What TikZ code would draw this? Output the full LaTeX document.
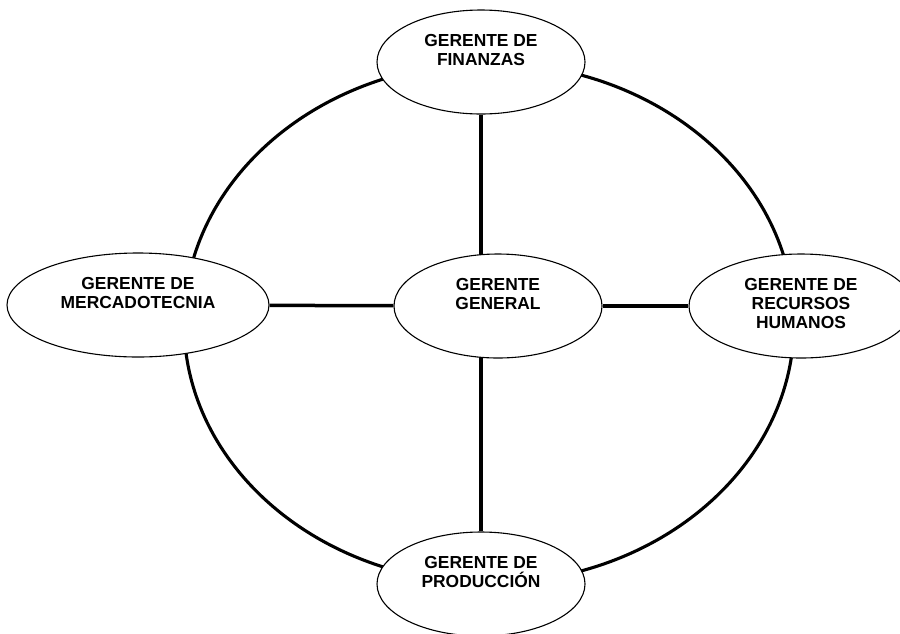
\documentclass[tikz,border=0pt]{standalone}
\usepackage{fontspec}
\setmainfont{Liberation Sans}
\usetikzlibrary{shapes.geometric,backgrounds}
\begin{document}
\begin{tikzpicture}[x=1pt,y=-1pt,
  manager/.style={ellipse, draw, line width=1.1pt, fill=white, inner sep=0pt, minimum height=104pt},
  caption/.style={font=\bfseries\fontsize{17.4}{19}\selectfont, align=center, inner sep=0pt, anchor=north},
  link/.style={line width=3.5pt},
  ring/.style={line width=3.1pt}]
\useasboundingbox (0,0) rectangle (900,633);
\clip (0,0) rectangle (900,633);

% managers
\node[manager, minimum width=208pt] (gen)  at (498,306) {};
\node[manager, minimum width=208pt] (fin)  at (481,62)  {};
\node[manager, minimum width=262pt] (mkt)  at (138,305) {};
\node[manager, minimum width=224pt] (rh)   at (801,306) {};
\node[manager, minimum width=208pt] (prod) at (481,584) {};

% titles, set from the top of each ellipse
\node[caption] (gen-t)  at ([yshift=-25pt]gen.north)  {GERENTE\\GENERAL};
\node[caption] (fin-t)  at ([yshift=-25pt]fin.north)  {GERENTE DE\\FINANZAS};
\node[caption] (mkt-t)  at ([yshift=-25pt]mkt.north)  {GERENTE DE\\MERCADOTECNIA};
\node[caption] (rh-t)   at ([yshift=-25pt]rh.north)   {GERENTE DE\\RECURSOS\\HUMANOS};
\node[caption] (prod-t) at ([yshift=-25pt]prod.north) {GERENTE DE\\PRODUCCIÓN};

% ring and spokes behind the ellipses
\begin{scope}[on background layer]
  \fill[white] (0,0) rectangle (900,633);
  \coordinate (ringc) at (489,323);
  \draw[ring] (ringc) ellipse [x radius=305pt, y radius=260pt];
  \draw[link] (fin) -- (fin |- gen.center);
  \draw[link] (prod) -- (prod |- gen.center);
  \draw[link] (mkt) -- (gen);
  \draw[link] (gen) -- (rh);
\end{scope}
\end{tikzpicture}
\end{document}
